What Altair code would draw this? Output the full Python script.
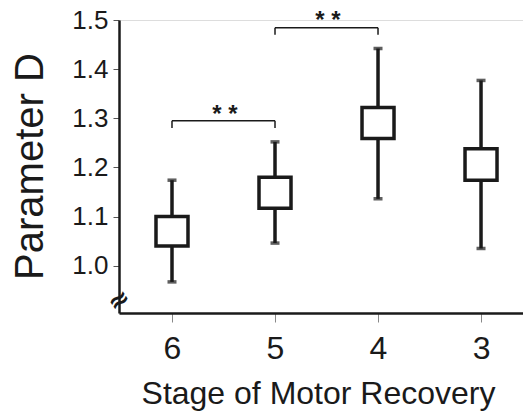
import altair as alt
import pandas as pd

# Data
stages = ["6", "5", "4", "3"]
box_low = [1.040, 1.117, 1.259, 1.174]
box_high = [1.100, 1.180, 1.322, 1.238]
whisk_low = [0.967, 1.046, 1.136, 1.035]
whisk_high = [1.174, 1.252, 1.442, 1.377]

bracket_from = ["6", "5"]
bracket_to = ["5", "4"]
bracket_level = [1.295, 1.484]
bracket_drop = [1.280, 1.470]
star_y = [1.2932, 1.4831]
star_text = ["* *", "* *"]

y_ticks = [1.0, 1.1, 1.2, 1.3, 1.4, 1.5]
y_domain = [0.9037, 1.5]
break_y = [0.929]

FONT = "Liberation Sans"
INK = "#1a1a1a"

df = pd.DataFrame({
    "stage": stages, "lo": box_low, "hi": box_high,
    "wlo": whisk_low, "whi": whisk_high,
})
br = pd.DataFrame({
    "a": bracket_from, "b": bracket_to,
    "lvl": bracket_level, "drop": bracket_drop,
    "sy": star_y, "txt": star_text,
})
br_ends = pd.DataFrame({
    "s": bracket_from + bracket_to,
    "lvl": bracket_level + bracket_level,
    "drop": bracket_drop + bracket_drop,
})
brk = pd.DataFrame({"y": break_y, "t": ["≈"]})

xscale = alt.Scale(type="point", domain=stages, padding=0.461, align=0.558)
yscale = alt.Scale(domain=y_domain, nice=False, zero=False)

xenc = alt.X("stage:N", scale=xscale, sort=stages,
             axis=alt.Axis(title="Stage of Motor Recovery", labelAngle=0,
                           labelFontSize=32, labelPadding=11, labelColor=INK,
                           tickSize=9, tickWidth=1, tickColor="#888",
                           domainWidth=2.5, domainColor=INK,
                           titleFontSize=32, titleFontWeight="normal",
                           titleColor=INK, titleBaseline="alphabetic",
                           titleY=90, titleX=199, grid=False))
yaxis = alt.Axis(title="Parameter D", values=y_ticks, format=".1f",
                 labelFontSize=26, labelPadding=5, labelColor=INK,
                 tickSize=6, tickWidth=1, tickColor="#555",
                 domainWidth=2.5, domainColor=INK,
                 titleFontSize=40, titleFontWeight="normal", titleColor=INK,
                 titleAngle=270, titleBaseline="alphabetic", titleAlign="center",
                 titleX=-77, titleY=146, grid=False)

base = alt.Chart(df)

whiskers = base.mark_rule(color=INK, strokeWidth=3.5).encode(
    x=xenc,
    y=alt.Y("wlo:Q", scale=yscale, axis=yaxis),
    y2="whi:Q",
)
caps_lo = base.mark_tick(color=INK, thickness=3.5, size=9, orient="horizontal").encode(
    x=alt.X("stage:N", scale=xscale, sort=stages),
    y=alt.Y("wlo:Q", scale=yscale),
)
caps_hi = base.mark_tick(color=INK, thickness=3.5, size=9, orient="horizontal").encode(
    x=alt.X("stage:N", scale=xscale, sort=stages),
    y=alt.Y("whi:Q", scale=yscale),
)
boxes = base.mark_bar(fill="white", stroke=INK, strokeWidth=3.5, size=32).encode(
    x=alt.X("stage:N", scale=xscale, sort=stages),
    y=alt.Y("lo:Q", scale=yscale),
    y2="hi:Q",
)

b = alt.Chart(br)
br_h = b.mark_rule(color=INK, strokeWidth=1.5).encode(
    x=alt.X("a:N", scale=xscale, sort=stages),
    x2="b:N",
    y=alt.Y("lvl:Q", scale=yscale),
)
br_v = alt.Chart(br_ends).mark_rule(color=INK, strokeWidth=1.5).encode(
    x=alt.X("s:N", scale=xscale, sort=stages),
    y=alt.Y("lvl:Q", scale=yscale),
    y2="drop:Q",
)
stars = b.mark_text(
    font=FONT, fontSize=24, fontWeight="bold", color=INK,
    baseline="alphabetic", align="center", dx=53,
).encode(
    x=alt.X("a:N", scale=xscale, sort=stages),
    y=alt.Y("sy:Q", scale=yscale),
    text="txt:N",
)
axis_break = alt.Chart(brk).mark_text(
    font="DejaVu Sans", fontSize=26, fontWeight="bold", color=INK, angle=325,
    baseline="middle", align="center",
).encode(
    x=alt.value(0),
    y=alt.Y("y:Q", scale=yscale),
    text="t:N",
)

chart = alt.layer(
    whiskers, caps_lo, caps_hi, boxes, br_h, br_v, stars, axis_break
).properties(
    width=404, height=293,
    autosize=alt.AutoSizeParams(type="none"),
    padding={"left": 111, "top": 12, "right": 0, "bottom": 100},
).configure_view(stroke=None).configure(font=FONT)

chart.save("out.html", embed_options={"renderer": "svg", "actions": False})
